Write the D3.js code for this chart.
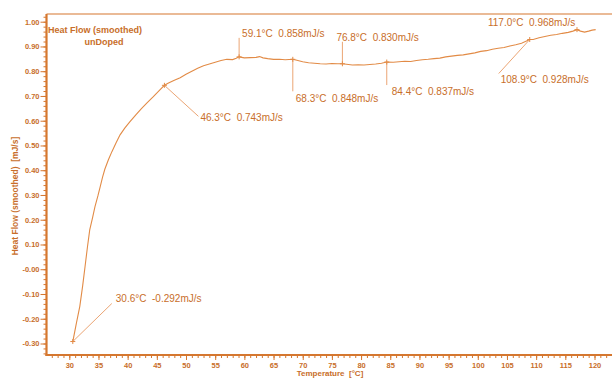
<!DOCTYPE html>
<html>
<head>
<meta charset="utf-8">
<script src="https://cdn.jsdelivr.net/npm/d3@7"></script>
<style>
  html, body { margin: 0; padding: 0; background: #ffffff; }
  svg { display: block; }
  text { font-family: "Liberation Sans", Arial, sans-serif; }
</style>
</head>
<body>
<script>
// Heat flow (smoothed) versus temperature, undoped sample
const temperature = [30.6, 31.2, 31.8, 32.3, 32.7, 33.1, 33.5, 34.0, 34.4, 34.9, 35.3, 35.7, 36.1, 36.7, 37.3,
  38.0, 38.7, 39.5, 40.4, 41.4, 42.4, 43.4, 44.4, 45.4, 46.3, 47.0, 48.0, 49.0, 50.0, 51.0, 52.0, 53.0,
  54.0, 55.0, 56.0, 57.0, 58.0, 58.6, 59.1, 60.0, 61.0, 62.0, 62.6, 63.2, 64.0, 65.0, 66.0, 67.0, 68.3,
  69.0, 70.0, 71.0, 72.0, 73.0, 74.0, 75.0, 76.0, 76.8, 77.5, 78.5, 79.5, 80.5, 81.5, 82.5, 83.5, 84.4,
  85.5, 86.5, 87.5, 88.5, 89.5, 90.5, 91.5, 92.5, 93.5, 94.5, 95.5, 96.5, 97.5, 98.5, 99.5, 100.5, 101.5,
  102.5, 103.5, 104.5, 105.5, 106.5, 107.5, 108.9, 109.5, 110.5, 111.5, 112.5, 113.5, 114.5, 115.5, 116.3,
  117.0, 117.6, 118.3, 119.0, 119.6, 120.2];
const heatFlow = [-0.292, -0.220, -0.150, -0.065, 0.011, 0.088, 0.159, 0.210, 0.253, 0.296, 0.334, 0.372,
  0.405, 0.442, 0.475, 0.510, 0.543, 0.570, 0.596, 0.624, 0.650, 0.674, 0.697, 0.722, 0.743, 0.752, 0.763,
  0.774, 0.788, 0.800, 0.812, 0.822, 0.829, 0.836, 0.843, 0.848, 0.847, 0.852, 0.858, 0.854, 0.855, 0.856,
  0.859, 0.854, 0.851, 0.848, 0.848, 0.846, 0.848, 0.844, 0.838, 0.834, 0.832, 0.830, 0.829, 0.831, 0.830,
  0.830, 0.828, 0.825, 0.826, 0.825, 0.827, 0.829, 0.832, 0.837, 0.836, 0.838, 0.840, 0.839, 0.843, 0.846,
  0.848, 0.851, 0.853, 0.858, 0.861, 0.864, 0.866, 0.870, 0.874, 0.880, 0.883, 0.889, 0.893, 0.896, 0.902,
  0.907, 0.913, 0.928, 0.928, 0.935, 0.940, 0.945, 0.948, 0.953, 0.957, 0.962, 0.968, 0.962, 0.958, 0.962,
  0.966, 0.968];

// Marked points on the curve
const markTemps = [30.6, 46.3, 59.1, 68.3, 76.8, 84.4, 108.9, 117.0];
const markValues = [-0.292, 0.743, 0.858, 0.848, 0.830, 0.837, 0.928, 0.968];

// Axis ticks
const xTicks = [30, 35, 40, 45, 50, 55, 60, 65, 70, 75, 80, 85, 90, 95, 100, 105, 110, 115, 120];
const yTicks = [1.0, 0.9, 0.8, 0.7, 0.6, 0.5, 0.4, 0.3, 0.2, 0.1, 0.0, -0.1, -0.2, -0.3];
const yTickLabels = ["1.00", "0.90", "0.80", "0.70", "0.60", "0.50", "0.40", "0.30", "0.20", "0.10",
  "-0.00", "-0.10", "-0.20", "-0.30"];

const W = 612, H = 378;
const axisCol = "#d5772f", textCol = "#c86e2a", curveCol = "#e28b46", leaderCol = "#eba574";

const svg = d3.select("body").append("svg").attr("width", W).attr("height", H);

const x = d3.scaleLinear().domain([30, 120]).range([69.3, 594.5]);
const y = d3.scaleLinear().domain([-0.3, 1.0]).range([343.5, 21.7]);

const plotLeft = 46.5, plotBottom = 355, plotTop = 14;

// Frame
svg.append("line").attr("x1", plotLeft).attr("x2", W).attr("y1", plotTop).attr("y2", plotTop)
  .attr("stroke", axisCol).attr("stroke-width", 1.2);

// Y axis: major and minor ticks
const yMinor = d3.range(-0.34, 1.03, 0.02).map(v => +v.toFixed(2));
const gyMinor = svg.append("g").attr("transform", `translate(${plotLeft},0)`)
  .call(d3.axisLeft(y).tickValues(yMinor).tickSize(3).tickFormat(""));
const gy = svg.append("g").attr("transform", `translate(${plotLeft},0)`)
  .call(d3.axisLeft(y).tickValues(yTicks).tickSize(6).tickPadding(1)
    .tickFormat((d, i) => yTickLabels[i]));

// X axis: major and minor ticks
const xMinor = d3.range(27, 123, 1);
const gxMinor = svg.append("g").attr("transform", `translate(0,${plotBottom})`)
  .call(d3.axisBottom(x).tickValues(xMinor).tickSize(3).tickFormat(""));
const gx = svg.append("g").attr("transform", `translate(0,${plotBottom})`)
  .call(d3.axisBottom(x).tickValues(xTicks).tickSize(5).tickPadding(3).tickFormat(d3.format("d")));

[gy, gyMinor, gx, gxMinor].forEach(g => {
  g.select(".domain").remove();
  g.selectAll(".tick line").attr("stroke", axisCol).attr("stroke-width", 1);
  g.selectAll(".tick text").attr("fill", textCol).style("font-size", "7.5px")
    .style("font-weight", "bold").style("font-family", "'Liberation Sans', Arial, sans-serif");
});

svg.append("line").attr("x1", plotLeft).attr("x2", plotLeft).attr("y1", plotTop).attr("y2", plotBottom + 1)
  .attr("stroke", axisCol).attr("stroke-width", 2.2);
svg.append("line").attr("x1", plotLeft - 1).attr("x2", W).attr("y1", plotBottom).attr("y2", plotBottom)
  .attr("stroke", axisCol).attr("stroke-width", 2.2);

// Axis titles
svg.append("text").attr("transform", "translate(18,196) rotate(-90)")
  .attr("text-anchor", "middle").attr("fill", textCol)
  .style("font-size", "8.5px").style("font-weight", "bold").style("white-space", "pre")
  .text("Heat Flow (smoothed)  [mJ/s]");
svg.append("text").attr("x", 330).attr("y", 376).attr("text-anchor", "middle").attr("fill", textCol)
  .style("font-size", "8px").style("font-weight", "bold").style("white-space", "pre")
  .text("Temperature  [°C]");

// Chart title
svg.append("text").attr("x", 48).attr("y", 32.5).attr("fill", textCol)
  .style("font-size", "9px").style("font-weight", "bold").text("Heat Flow (smoothed)");
svg.append("text").attr("x", 104).attr("y", 45).attr("text-anchor", "middle").attr("fill", textCol)
  .style("font-size", "9px").style("font-weight", "bold").text("unDoped");

// Curve
const pts = temperature.map((t, i) => [t, heatFlow[i]]);
svg.append("path").datum(pts)
  .attr("fill", "none").attr("stroke", curveCol).attr("stroke-width", 1.1)
  .attr("d", d3.line().x(d => x(d[0])).y(d => y(d[1])));

// Leader line end offsets and label anchors (relative to the marked point)
const leaderLayout = [
  { lx: 39, ly: -38, tx: 43, ty: -40 },
  { lx: 34, ly: 31, tx: 36, ty: 36 },
  { lx: 0, ly: -19, tx: 3, ty: -20 },
  { lx: 0, ly: 32, tx: 3, ty: 43 },
  { lx: 0, ly: -22, tx: -6, ty: -23 },
  { lx: 0, ly: 23, tx: 5, ty: 33 },
  { lx: -31, ly: 34, tx: -29, ty: 43 },
  { lx: 0, ly: 0, tx: -89, ty: -4 }
];

const marks = markTemps.map((t, i) => ({ t, v: markValues[i], lay: leaderLayout[i] }));
const mg = svg.append("g");
marks.forEach(m => {
  const px = x(m.t), py = y(m.v);
  if (m.lay.lx !== 0 || m.lay.ly !== 0) {
    mg.append("line").attr("x1", px).attr("y1", py).attr("x2", px + m.lay.lx).attr("y2", py + m.lay.ly)
      .attr("stroke", leaderCol).attr("stroke-width", 1);
  }
  mg.append("path").attr("d", `M${px - 2.5},${py}H${px + 2.5}M${px},${py - 2.5}V${py + 2.5}`)
    .attr("stroke", curveCol).attr("stroke-width", 1);
  mg.append("text").attr("x", px + m.lay.tx).attr("y", py + m.lay.ty).attr("fill", textCol)
    .style("font-size", "10px").style("white-space", "pre")
    .text(`${m.t.toFixed(1)}°C  ${m.v.toFixed(3)}mJ/s`);
});
</script>
</body>
</html>
